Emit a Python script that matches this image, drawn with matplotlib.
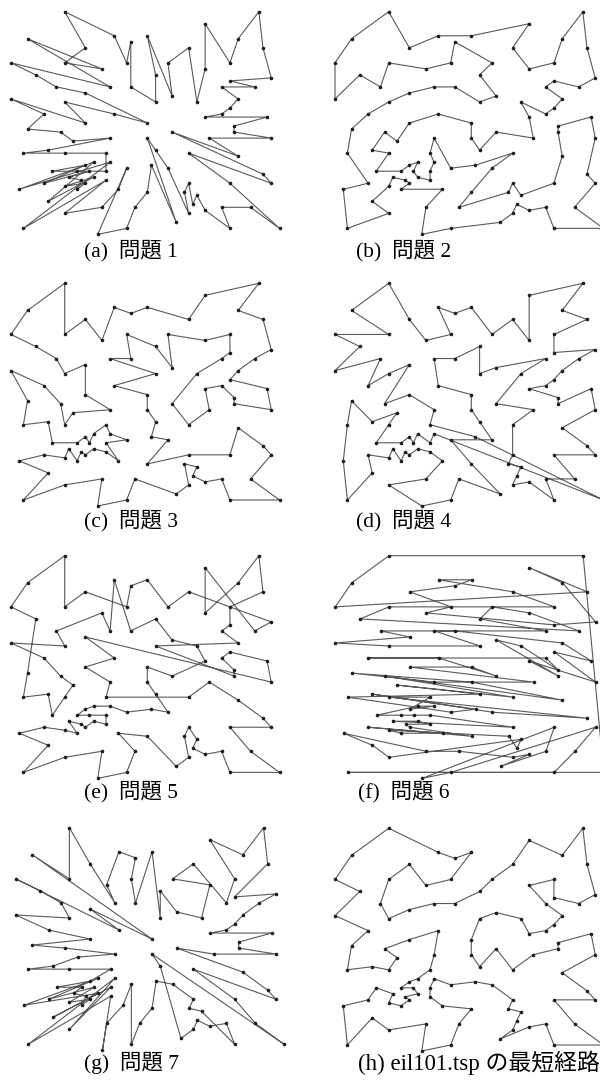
import matplotlib

matplotlib.use("Agg")
import matplotlib.pyplot as plt

# eil101.tsp の都市座標 (都市番号 1..101)
CITY_X = [41, 35, 55, 55, 15, 25, 20, 10, 55, 30, 20, 50, 30, 15, 30, 10, 5, 20, 15, 45,
          45, 45, 55, 65, 65, 45, 35, 41, 64, 40, 31, 35, 53, 65, 63, 2, 20, 5, 60, 40,
          42, 24, 23, 11, 6, 2, 8, 13, 6, 47, 49, 27, 37, 57, 63, 53, 32, 36, 21, 17,
          12, 24, 27, 15, 62, 49, 67, 56, 37, 37, 57, 47, 44, 46, 49, 49, 53, 61, 57, 56,
          55, 15, 14, 11, 16, 4, 28, 26, 26, 31, 15, 22, 18, 26, 25, 22, 25, 19, 20, 18, 35]
CITY_Y = [49, 17, 45, 20, 30, 30, 50, 43, 60, 60, 65, 35, 25, 10, 5, 20, 30, 40, 60, 65,
          20, 10, 5, 35, 20, 30, 40, 37, 42, 60, 52, 69, 52, 55, 65, 60, 20, 5, 12, 25,
          7, 12, 3, 14, 38, 48, 56, 52, 68, 47, 58, 43, 31, 29, 23, 12, 12, 26, 24, 34,
          24, 58, 69, 77, 77, 73, 5, 39, 47, 56, 68, 16, 17, 13, 11, 42, 43, 52, 48, 37,
          54, 47, 37, 31, 22, 18, 18, 52, 35, 67, 19, 22, 24, 27, 24, 27, 21, 21, 26, 18, 35]

# 各問題の巡回路 (都市番号の並び)
TOUR_A = [27, 7, 48, 47, 36, 88, 49, 62, 19, 11, 64, 63, 10, 90, 31, 69, 70, 32, 1, 30,
          20, 50, 51, 66, 9, 71, 65, 35, 34, 81, 78, 33, 79, 3, 77, 76, 29, 68, 80, 24,
          12, 54, 28, 55, 25, 26, 4, 67, 39, 56, 23, 75, 72, 74, 21, 73, 22, 40, 53, 101,
          41, 58, 2, 57, 15, 43, 13, 87, 42, 14, 97, 38, 94, 86, 96, 44, 92, 91, 37, 100,
          98, 85, 59, 16, 99, 61, 93, 95, 6, 5, 17, 84, 89, 60, 83, 45, 8, 46, 18, 82, 52]
TOUR_B = [64, 49, 36, 46, 47, 48, 19, 62, 10, 90, 30, 70, 1, 69, 31, 88, 7, 82, 8, 45,
          17, 16, 86, 38, 14, 44, 91, 85, 98, 37, 100, 87, 42, 43, 15, 41, 22, 74, 75, 56,
          23, 67, 39, 25, 55, 24, 29, 68, 80, 54, 4, 72, 21, 73, 57, 2, 40, 26, 58, 13,
          89, 6, 94, 95, 97, 92, 59, 96, 99, 93, 61, 5, 84, 83, 60, 18, 52, 27, 101, 53,
          28, 12, 76, 50, 77, 3, 79, 33, 81, 78, 34, 35, 65, 71, 9, 51, 20, 66, 32, 63, 11]
TOUR_C = [64, 49, 36, 47, 48, 82, 7, 18, 89, 60, 5, 83, 8, 46, 45, 17, 84, 61, 93, 99,
          59, 96, 6, 94, 13, 95, 87, 97, 92, 37, 98, 100, 85, 91, 16, 86, 44, 38, 14, 42,
          43, 15, 57, 41, 22, 73, 72, 74, 75, 56, 23, 67, 39, 25, 55, 54, 4, 21, 2, 40,
          58, 53, 101, 27, 52, 69, 88, 31, 10, 70, 1, 30, 51, 9, 81, 33, 50, 28, 26, 12,
          76, 77, 68, 80, 24, 29, 3, 79, 78, 34, 35, 71, 65, 66, 20, 32, 90, 63, 62, 11, 19]
TOUR_D = [17, 86, 38, 44, 16, 91, 85, 100, 98, 37, 92, 97, 87, 42, 14, 43, 15, 57, 41, 2,
          13, 40, 53, 101, 27, 52, 88, 31, 70, 69, 1, 33, 50, 28, 12, 26, 21, 73, 72, 74,
          22, 75, 23, 56, 39, 4, 25, 55, 54, 24, 29, 80, 68, 76, 77, 3, 79, 78, 34, 81,
          9, 35, 71, 65, 66, 51, 20, 30, 32, 90, 63, 10, 62, 11, 64, 49, 19, 36, 47, 46,
          48, 8, 82, 7, 83, 18, 89, 6, 58, 67, 94, 95, 96, 59, 99, 93, 61, 5, 60, 84, 45]
TOUR_E = [64, 49, 36, 47, 45, 17, 84, 61, 5, 60, 83, 8, 46, 82, 48, 62, 88, 63, 31, 70,
          1, 50, 76, 28, 27, 101, 53, 40, 58, 13, 94, 96, 99, 93, 59, 95, 97, 92, 37, 98,
          85, 100, 91, 16, 86, 44, 38, 14, 42, 43, 15, 57, 87, 2, 41, 22, 73, 21, 72, 74,
          75, 56, 23, 67, 39, 4, 25, 55, 54, 12, 26, 6, 89, 18, 52, 7, 24, 29, 3, 77,
          68, 80, 69, 79, 33, 81, 9, 35, 65, 71, 51, 66, 78, 34, 20, 30, 32, 90, 10, 11, 19]
TOUR_F = [34, 81, 62, 10, 11, 90, 32, 63, 20, 9, 19, 47, 78, 51, 30, 70, 33, 48, 7, 46,
          82, 69, 88, 31, 79, 29, 3, 24, 76, 80, 1, 50, 68, 77, 8, 52, 28, 27, 18, 12,
          89, 45, 101, 54, 83, 26, 60, 53, 17, 13, 58, 84, 40, 55, 5, 6, 99, 94, 96, 61,
          93, 59, 95, 21, 85, 92, 97, 98, 37, 2, 16, 87, 100, 91, 73, 74, 72, 14, 44, 86,
          42, 57, 22, 75, 41, 56, 4, 43, 15, 25, 39, 23, 38, 67, 65, 64, 49, 36, 35, 66, 71]
TOUR_G = [27, 49, 19, 64, 11, 88, 62, 63, 90, 10, 31, 32, 69, 70, 1, 50, 51, 30, 20, 33,
          9, 66, 71, 65, 35, 81, 34, 78, 79, 3, 77, 76, 29, 68, 80, 24, 12, 28, 54, 55,
          25, 26, 4, 39, 67, 101, 53, 41, 22, 74, 75, 56, 23, 72, 73, 21, 40, 58, 2, 57,
          15, 13, 87, 42, 43, 97, 38, 94, 14, 95, 44, 92, 86, 96, 16, 59, 91, 37, 100, 98,
          85, 93, 61, 99, 6, 5, 17, 84, 60, 89, 83, 45, 18, 8, 46, 82, 48, 47, 36, 52, 7]
TOUR_H = [64, 49, 36, 47, 46, 8, 45, 17, 84, 5, 60, 83, 18, 52, 89, 6, 96, 99, 93, 59,
          92, 98, 37, 100, 91, 85, 61, 16, 86, 38, 44, 14, 42, 43, 15, 57, 2, 87, 97, 95,
          94, 13, 58, 40, 21, 73, 72, 74, 22, 41, 75, 56, 23, 67, 39, 4, 25, 55, 54, 24,
          29, 68, 80, 12, 26, 28, 53, 101, 27, 69, 1, 50, 76, 77, 3, 79, 33, 51, 9, 81,
          78, 34, 35, 65, 71, 66, 20, 30, 70, 31, 88, 7, 82, 48, 19, 11, 62, 10, 32, 90, 63]

CAPTIONS = ["(a)  問題 1", "(b)  問題 2", "(c)  問題 3", "(d)  問題 4",
            "(e)  問題 5", "(f)  問題 6", "(g)  問題 7", "(h) eil101.tsp の最短経路"]

W, H = 600, 1091
PW, PH = 268.5, 222.7          # パネルの大きさ (px)
LINE = "#5a5a5a"
DOT = "#1e1e1e"
FONT = ["Liberation Serif", "Noto Sans CJK JP"]

# (巡回路, 左端px, 上端px, 見出し中心x, 見出しy, 文字サイズ)
panels = [
    (TOUR_A, 11.0, 11.7, 131, 251, 15.5),
    (TOUR_B, 335.0, 11.7, 404, 251, 15.5),
    (TOUR_C, 11.0, 283.3, 131, 521, 15.5),
    (TOUR_D, 335.0, 283.3, 404, 521, 15.5),
    (TOUR_E, 11.0, 555.7, 131, 792, 15.5),
    (TOUR_F, 335.3, 555.7, 404, 792, 15.5),
    (TOUR_G, 15.7, 827.7, 131, 1063, 15.5),
    (TOUR_H, 335.0, 828.3, 479, 1063, 16.5),
]

fig = plt.figure(figsize=(W / 100, H / 100), dpi=100)
fig.patch.set_facecolor("white")

for (tour, left, top, cx, cy, fs), cap in zip(panels, CAPTIONS):
    ax = fig.add_axes([left / W, 1 - (top + PH) / H, PW / W, PH / H])
    ax.set_xlim(2, 67)
    ax.set_ylim(3, 77)
    ax.axis("off")
    xs = [CITY_X[i - 1] for i in tour] + [CITY_X[tour[0] - 1]]
    ys = [CITY_Y[i - 1] for i in tour] + [CITY_Y[tour[0] - 1]]
    ax.plot(xs, ys, color=LINE, lw=0.8, clip_on=False, zorder=2)
    ax.plot(CITY_X, CITY_Y, "o", ms=2.6, color=DOT, mew=0, clip_on=False, zorder=3)
    fig.text(cx / W, 1 - cy / H, cap, ha="center", va="center",
             fontsize=fs, family=FONT)

fig.savefig("out.png", dpi=100, facecolor="white")
